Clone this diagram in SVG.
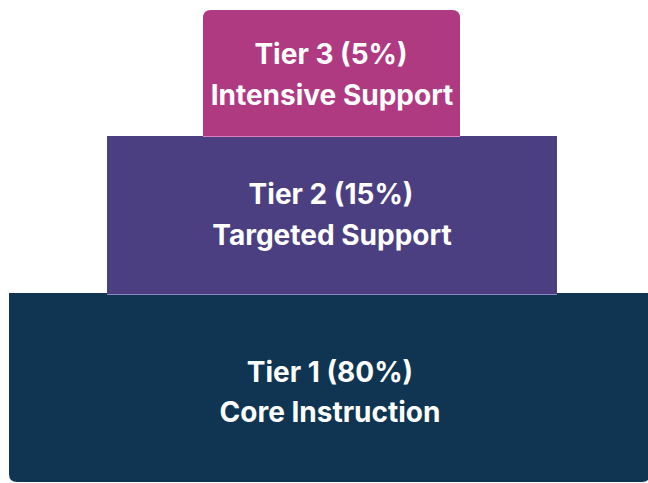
<svg xmlns="http://www.w3.org/2000/svg" width="648" height="483" viewBox="0 0 648 483">
  <style>
    .label { font-family: Inter, "Liberation Sans", Arial, sans-serif; font-weight: 700; font-size: 28px; fill: #ffffff; text-anchor: middle; }
    .t3 { fill: #B03A82; }
    .t2 { fill: #4B3F82; }
    .t1 { fill: #0F3552; }
  </style>
  <rect width="648" height="483" fill="#ffffff"/>

  <!-- Tier 1: base of the pyramid -->
  <g id="tier1">
    <path class="t1" d="M9,293 H650 V474 Q650,482 642,482 H17 Q9,482 9,474 Z"/>
    <text class="label" x="330" y="382">Tier 1 (80%)</text>
    <text class="label" x="330" y="422">Core Instruction</text>
  </g>

  <!-- Tier 2: middle layer -->
  <g id="tier2">
    <rect class="t2" x="107" y="136" width="450" height="159"/>
    <line x1="107" y1="294.5" x2="557" y2="294.5" stroke="#8C82C4" stroke-width="1"/>
    <text class="label" x="331" y="204">Tier 2 (15%)</text>
    <text class="label" x="332" y="245">Targeted Support</text>
  </g>

  <!-- Tier 3: top layer -->
  <g id="tier3">
    <path class="t3" d="M203,137 V18 Q203,10 211,10 H452 Q460,10 460,18 V137 Z"/>
    <line x1="203" y1="136.5" x2="460" y2="136.5" stroke="#E07EBC" stroke-width="1"/>
    <text class="label" x="331" y="64">Tier 3 (5%)</text>
    <text class="label" x="332" y="105">Intensive Support</text>
  </g>
</svg>
